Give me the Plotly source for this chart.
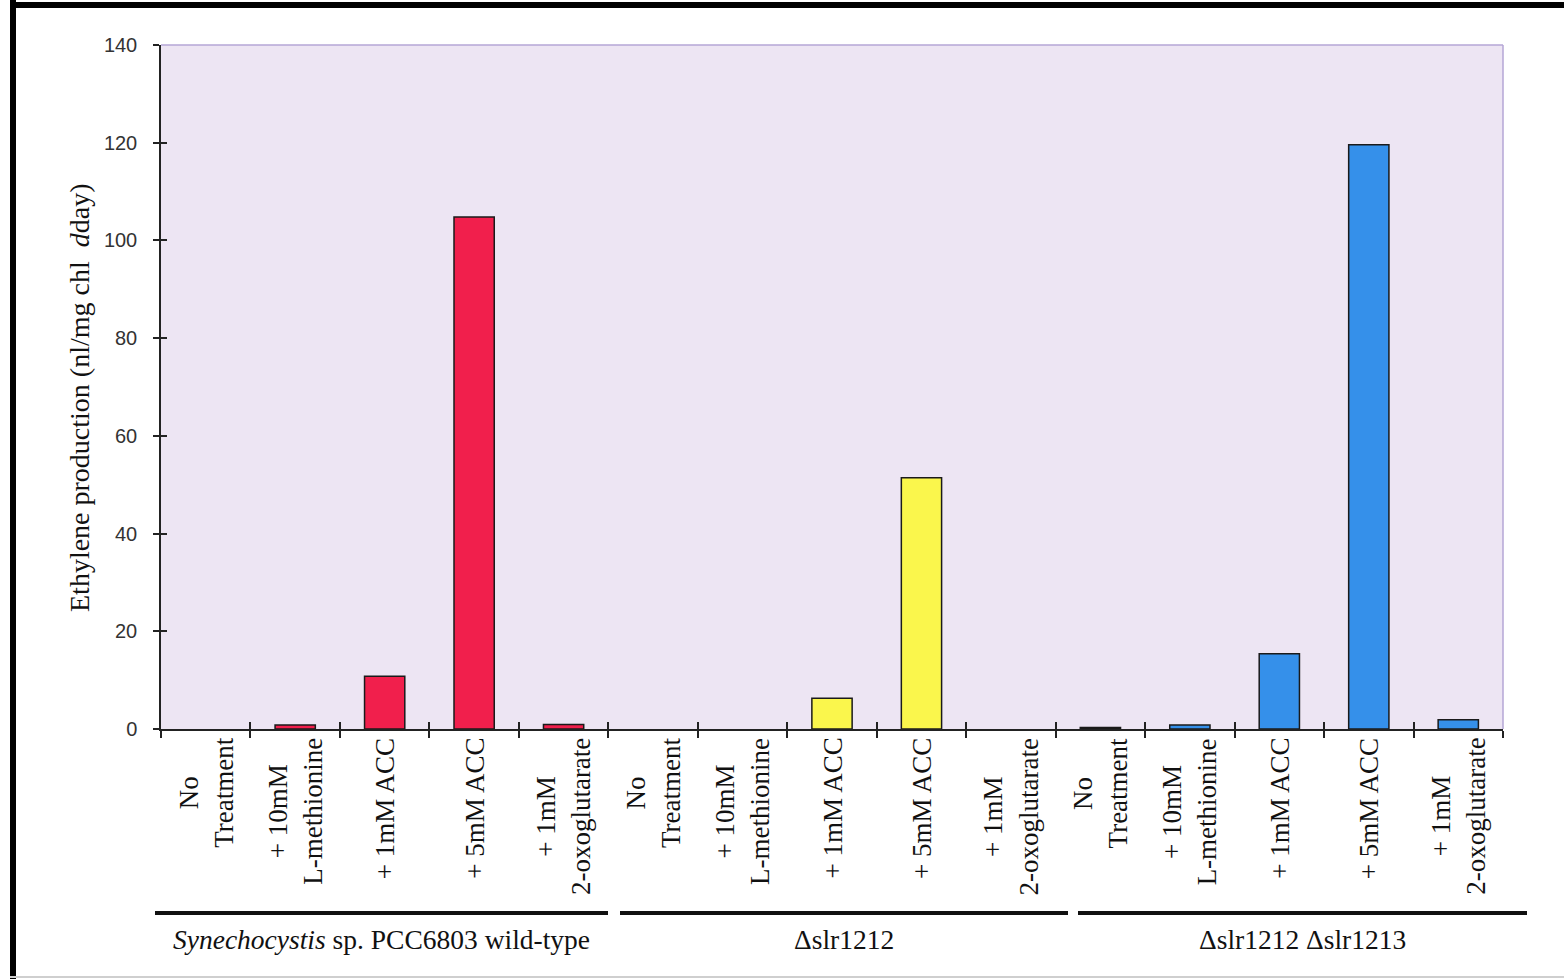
import plotly.graph_objects as go

# Treatments applied to each strain (same order in every group)
treatments = [
    "No<br>Treatment",
    "+ 10mM<br>L-methionine",
    "+ 1mM ACC",
    "+ 5mM ACC",
    "+ 1mM<br>2-oxoglutarate",
]
strains = [
    "<i>Synechocystis</i> sp. PCC6803 wild-type",
    "\u0394slr1212",
    "\u0394slr1212 \u0394slr1213",
]

# Ethylene production (nl/mg chl day) per treatment
wild_type = [0, 0.8, 10.8, 104.8, 0.9]
d_slr1212 = [0, 0, 6.3, 51.4, 0]
d_slr1212_1213 = [0.3, 0.8, 15.4, 119.6, 1.9]

strain_values = [wild_type, d_slr1212, d_slr1212_1213]
strain_colors = ["#f11f4c", "#faf64c", "#3590ea"]

y_ticks = [0, 20, 40, 60, 80, 100, 120, 140]

n_t = len(treatments)
n_all = n_t * len(strains)

# plot-area geometry in pixels (used only to place page decorations)
W, H = 1564, 979
L, R, T, B = 161, 61, 45, 250
pw, ph = W - L - R, H - T - B


def px_x(p):
    return (p - L) / pw


def px_y(p):
    return (H - B - p) / ph


fig = go.Figure()

for s, (vals, col) in enumerate(zip(strain_values, strain_colors)):
    fig.add_trace(go.Bar(
        x=[s * n_t + i for i in range(n_t)],
        y=vals,
        marker=dict(color=col,
                    line=dict(color="#1a1a1a",
                              width=[1.5 if v > 0 else 0 for v in vals])),
        width=0.45,
        showlegend=False,
        hoverinfo="y",
    ))

# second axis pair supplies the inward half of the crossing ticks
fig.add_trace(go.Scatter(x=[], y=[], xaxis="x2", yaxis="y2", showlegend=False))

boundaries = [i - 0.5 for i in range(n_all + 1)]
axis_font = dict(family="Liberation Sans, Arial, sans-serif", size=20, color="#333333")

fig.update_layout(
    width=W, height=H,
    margin=dict(l=L, r=R, t=T, b=B),
    paper_bgcolor="white",
    plot_bgcolor="#ede5f3",
    bargap=0.55,
    xaxis=dict(
        range=[-0.5, n_all - 0.5], tickvals=boundaries, showticklabels=False,
        ticks="outside", ticklen=7, tickwidth=1.5, tickcolor="#222",
        showline=True, linecolor="#222", linewidth=1.5,
        showgrid=False, zeroline=False, fixedrange=True,
    ),
    yaxis=dict(
        range=[0, 140], tickvals=y_ticks, ticks="outside", ticklen=6,
        tickwidth=1.5, tickcolor="#222", tickfont=axis_font,
        ticklabelstandoff=12,
        showline=True, linecolor="#222", linewidth=1.5,
        showgrid=False, zeroline=False, fixedrange=True,
    ),
    xaxis2=dict(
        overlaying="x", anchor="y2", range=[-0.5, n_all - 0.5],
        tickvals=boundaries, showticklabels=False, ticks="inside",
        ticklen=7, tickwidth=1.5, tickcolor="#222", showgrid=False,
        zeroline=False, showline=False, fixedrange=True,
    ),
    yaxis2=dict(
        overlaying="y", anchor="x2", range=[0, 140], tickvals=y_ticks,
        showticklabels=False, ticks="inside", ticklen=6, tickwidth=1.5,
        tickcolor="#222", showgrid=False, zeroline=False, showline=False,
        fixedrange=True,
    ),
)

serif = "Liberation Serif, Times New Roman, serif"

# rotated treatment labels under each bar
for s in range(len(strains)):
    for i, lab in enumerate(treatments):
        fig.add_annotation(
            x=s * n_t + i, y=0, xref="x", yref="paper",
            text=lab, textangle=-90, showarrow=False,
            xanchor="center", yanchor="top", yshift=-7, align="center",
            font=dict(family=serif, size=27, color="#111"),
        )

# strain brackets (pixel extents on the page) and names
bracket_px = [(155, 608), (620, 1068), (1078, 1527)]
for (p0, p1), name in zip(bracket_px, strains):
    fig.add_shape(type="line", xref="paper", yref="paper",
                  x0=px_x(p0), x1=px_x(p1), y0=px_y(913), y1=px_y(913),
                  line=dict(color="#111", width=4))
    fig.add_annotation(
        x=px_x((p0 + p1) / 2), y=px_y(940), xref="paper", yref="paper",
        text=name, showarrow=False, xanchor="center", yanchor="middle",
        font=dict(family=serif, size=27.5, color="#111"),
    )

# y-axis title
fig.add_annotation(
    x=px_x(79), y=px_y(398), xref="paper", yref="paper",
    text="Ethylene production (nl/mg chl\u00a0 <i>d</i>day)",
    textangle=-90, showarrow=False, xanchor="center", yanchor="middle",
    font=dict(family=serif, size=28, color="#111"),
)

# light border along the top and right of the plot area
fig.add_shape(type="line", xref="paper", yref="paper", x0=0, x1=1, y0=1, y1=1,
              line=dict(color="#b4a6d6", width=1.5))
fig.add_shape(type="line", xref="paper", yref="paper", x0=1, x1=1, y0=0, y1=1,
              line=dict(color="#b4a6d6", width=1.5))

# page frame
fig.add_shape(type="line", xref="paper", yref="paper",
              x0=px_x(13), x1=px_x(13), y0=px_y(0), y1=px_y(979),
              line=dict(color="black", width=6))
fig.add_shape(type="line", xref="paper", yref="paper",
              x0=px_x(10), x1=px_x(1564), y0=px_y(5), y1=px_y(5),
              line=dict(color="black", width=6))
fig.add_shape(type="line", xref="paper", yref="paper",
              x0=px_x(10), x1=px_x(1564), y0=px_y(977), y1=px_y(977),
              line=dict(color="#cfcfcf", width=2))

fig.write_html("out.html")
